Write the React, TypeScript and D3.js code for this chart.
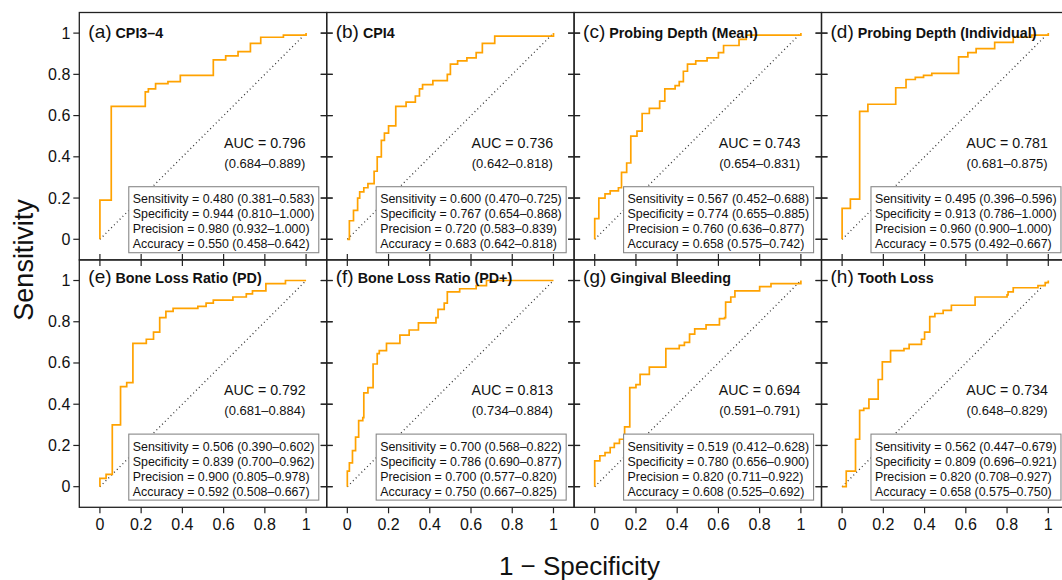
import * as d3 from "d3";

// ROC staircase corners: [1 - specificity, sensitivity] where the curve rises
const curveA = [[0,0],[0,0.19],[0.055,0.645],[0.22,0.715],[0.235,0.73],[0.27,0.755],[0.33,0.765],[0.39,0.795],[0.55,0.87],[0.61,0.89],[0.67,0.91],[0.73,0.95],[0.78,0.98],[0.89,0.99],[1,1]];
const curveB = [[0,0],[0.01,0.09],[0.03,0.14],[0.05,0.2],[0.06,0.23],[0.08,0.25],[0.1,0.27],[0.13,0.33],[0.145,0.4],[0.165,0.48],[0.18,0.515],[0.2,0.55],[0.235,0.645],[0.285,0.665],[0.33,0.695],[0.35,0.73],[0.365,0.75],[0.415,0.77],[0.485,0.8],[0.5,0.85],[0.535,0.865],[0.58,0.88],[0.625,0.905],[0.655,0.95],[0.715,0.985],[1,1]];
const curveC = [[0,0],[0,0.1],[0.02,0.2],[0.05,0.22],[0.075,0.235],[0.115,0.25],[0.13,0.325],[0.155,0.37],[0.175,0.5],[0.205,0.525],[0.23,0.61],[0.265,0.635],[0.315,0.67],[0.34,0.73],[0.39,0.745],[0.41,0.765],[0.43,0.815],[0.45,0.85],[0.49,0.865],[0.545,0.88],[0.6,0.905],[0.625,0.94],[0.7,0.97],[0.735,0.99],[1,1]];
const curveD = [[0,0],[0,0.15],[0.04,0.195],[0.085,0.62],[0.125,0.655],[0.26,0.735],[0.31,0.775],[0.355,0.785],[0.395,0.795],[0.435,0.805],[0.565,0.885],[0.61,0.905],[0.65,0.925],[0.74,0.955],[0.83,0.98],[0.92,0.99],[1,1]];
const curveE = [[0,0],[0,0.04],[0.03,0.06],[0.06,0.3],[0.1,0.485],[0.13,0.505],[0.16,0.695],[0.225,0.715],[0.26,0.75],[0.29,0.82],[0.32,0.85],[0.355,0.865],[0.475,0.875],[0.515,0.89],[0.55,0.905],[0.645,0.92],[0.71,0.935],[0.74,0.95],[0.805,0.985],[0.9,1],[1,1]];
const curveF = [[0,0],[0,0.075],[0.01,0.115],[0.025,0.175],[0.04,0.24],[0.055,0.32],[0.075,0.335],[0.08,0.455],[0.1,0.48],[0.125,0.595],[0.145,0.645],[0.155,0.66],[0.19,0.695],[0.255,0.735],[0.3,0.76],[0.345,0.795],[0.43,0.82],[0.44,0.86],[0.47,0.89],[0.485,0.945],[0.545,0.96],[0.625,0.975],[0.675,1],[1,1]];
const curveG = [[0,0],[0,0.125],[0.025,0.15],[0.05,0.165],[0.075,0.19],[0.095,0.21],[0.12,0.23],[0.145,0.29],[0.17,0.48],[0.2,0.495],[0.22,0.545],[0.265,0.58],[0.345,0.67],[0.41,0.685],[0.435,0.7],[0.46,0.74],[0.485,0.765],[0.54,0.785],[0.605,0.815],[0.63,0.82],[0.635,0.895],[0.66,0.92],[0.68,0.95],[0.8,0.97],[0.855,0.985],[1,1]];
const curveH = [[0,0],[0.02,0.075],[0.065,0.23],[0.085,0.37],[0.105,0.38],[0.13,0.425],[0.175,0.52],[0.195,0.605],[0.235,0.66],[0.3,0.67],[0.325,0.69],[0.385,0.715],[0.4,0.75],[0.425,0.825],[0.45,0.84],[0.49,0.855],[0.53,0.88],[0.645,0.92],[0.8,0.93],[0.805,0.945],[0.83,0.965],[0.95,0.975],[0.985,0.99],[1,1]];
const curves = [curveA, curveB, curveC, curveD, curveE, curveF, curveG, curveH];

const letters = ["a", "b", "c", "d", "e", "f", "g", "h"];
const titles = ["CPI3–4", "CPI4", "Probing Depth (Mean)", "Probing Depth (Individual)", "Bone Loss Ratio (PD)", "Bone Loss Ratio (PD+)", "Gingival Bleeding", "Tooth Loss"];

const auc = [0.796, 0.736, 0.743, 0.781, 0.792, 0.813, 0.694, 0.734];
const aucCI = [[0.684, 0.889], [0.642, 0.818], [0.654, 0.831], [0.681, 0.875], [0.681, 0.884], [0.734, 0.884], [0.591, 0.791], [0.648, 0.829]];

const sensitivity = [[0.480,0.381,0.583],[0.600,0.470,0.725],[0.567,0.452,0.688],[0.495,0.396,0.596],[0.506,0.390,0.602],[0.700,0.568,0.822],[0.519,0.412,0.628],[0.562,0.447,0.679]];
const specificity = [[0.944,0.810,1.000],[0.767,0.654,0.868],[0.774,0.655,0.885],[0.913,0.786,1.000],[0.839,0.700,0.962],[0.786,0.690,0.877],[0.780,0.656,0.900],[0.809,0.696,0.921]];
const precision = [[0.980,0.932,1.000],[0.720,0.583,0.839],[0.760,0.636,0.877],[0.960,0.900,1.000],[0.900,0.805,0.978],[0.700,0.577,0.820],[0.820,0.711,0.922],[0.820,0.708,0.927]];
const accuracy = [[0.550,0.458,0.642],[0.683,0.642,0.818],[0.658,0.575,0.742],[0.575,0.492,0.667],[0.592,0.508,0.667],[0.750,0.667,0.825],[0.608,0.525,0.692],[0.658,0.575,0.750]];

const ticks = [0, 0.2, 0.4, 0.6, 0.8, 1];

const W = 1062;
const H = 580;
const left = 79.3;
const top = 12.5;
const pw = 247.4;
const ph = 247.4;
const font = "'Liberation Sans', Arial, Helvetica, sans-serif";

const f3 = (v: number) => v.toFixed(3);
const tickFmt = (v: number) => (v === 0 ? "0" : v === 1 ? "1" : String(v));

const x = d3.scaleLinear().domain([-0.1, 1.1]).range([0, pw]);
const y = d3.scaleLinear().domain([-0.1, 1.1]).range([ph, 0]);
const line = d3
  .line<number[]>()
  .x((d) => x(d[0]))
  .y((d) => y(d[1]))
  .curve(d3.curveStepAfter);

const Panel = ({ i }: { i: number }) => {
  const col = i % 4;
  const row = Math.floor(i / 4);
  const tx = left + col * pw;
  const ty = top + row * ph;
  const stats = [
    ["Sensitivity", sensitivity[i]],
    ["Specificity", specificity[i]],
    ["Precision", precision[i]],
    ["Accuracy", accuracy[i]],
  ] as [string, number[]][];
  const boxX = x(0.14);
  const boxY = y(0.255);
  // ticks: outward on the outer frame, crossing at shared borders
  const leftTick = col === 0 ? [-6, 0] : [-6, 6];
  const bottomTick = row === 1 ? [0, 6] : [-6, 6];
  return (
    <g transform={`translate(${tx},${ty})`}>
      <line x1={x(0)} y1={y(0)} x2={x(1)} y2={y(1)} stroke="#333" strokeWidth={1.3} strokeDasharray="1 3" />
      <path d={line(curves[i]) || ""} fill="none" stroke="#FFA200" strokeWidth={1.7} />
      <text x={x(0.8)} y={y(0.445)} textAnchor="middle" fontSize={14.2} fill="#111">
        AUC = {f3(auc[i])}
      </text>
      <text x={x(0.8)} y={y(0.347)} textAnchor="middle" fontSize={13} fill="#111">
        ({f3(aucCI[i][0])}–{f3(aucCI[i][1])})
      </text>
      <rect x={boxX} y={boxY} width={190} height={66} fill="white" stroke="#888" strokeWidth={1.1} />
      {stats.map(([name, v], k) => (
        <text key={name} x={boxX + 4} y={boxY + 16.5 + k * 15} fontSize={12.4} fill="#111">
          {name} = {f3(v[0])} ({f3(v[1])}–{f3(v[2])})
        </text>
      ))}
      <text x={9} y={row === 0 ? 25 : 23} fill="#111">
        <tspan fontSize={19}>({letters[i]})</tspan>
        <tspan dx={4} fontSize={14.3} fontWeight="bold">{titles[i]}</tspan>
      </text>
      <rect x={0} y={0} width={pw} height={ph} fill="none" stroke="#222" strokeWidth={1.3} />
      {ticks.map((t) => (
        <g key={t}>
          <line x1={leftTick[0]} x2={leftTick[1]} y1={y(t)} y2={y(t)} stroke="#222" strokeWidth={1.2} />
          <line x1={pw - 6} x2={pw + 6} y1={y(t)} y2={y(t)} stroke="#222" strokeWidth={1.2} />
          <line x1={x(t)} x2={x(t)} y1={ph + bottomTick[0]} y2={ph + bottomTick[1]} stroke="#222" strokeWidth={1.2} />
          {col === 0 && (
            <text x={-9} y={y(t) + 5.5} textAnchor="end" fontSize={16} fill="#111">
              {tickFmt(t)}
            </text>
          )}
          {row === 1 && (
            <text x={x(t)} y={ph + 23} textAnchor="middle" fontSize={16} fill="#111">
              {tickFmt(t)}
            </text>
          )}
        </g>
      ))}
    </g>
  );
};

export default function App() {
  return (
    <svg width={W} height={H} style={{ position: "absolute", left: 0, top: 0, background: "white" }} fontFamily={font}>
      <rect width={W} height={H} fill="white" />
      {curves.map((_, i) => (
        <Panel key={i} i={i} />
      ))}
      <text transform={`translate(33,${top + ph}) rotate(-90)`} textAnchor="middle" fontSize={27} fill="#111">
        Sensitivity
      </text>
      <text x={579.5} y={575} textAnchor="middle" fontSize={26} fill="#111">
        1 − Specificity
      </text>
    </svg>
  );
}
